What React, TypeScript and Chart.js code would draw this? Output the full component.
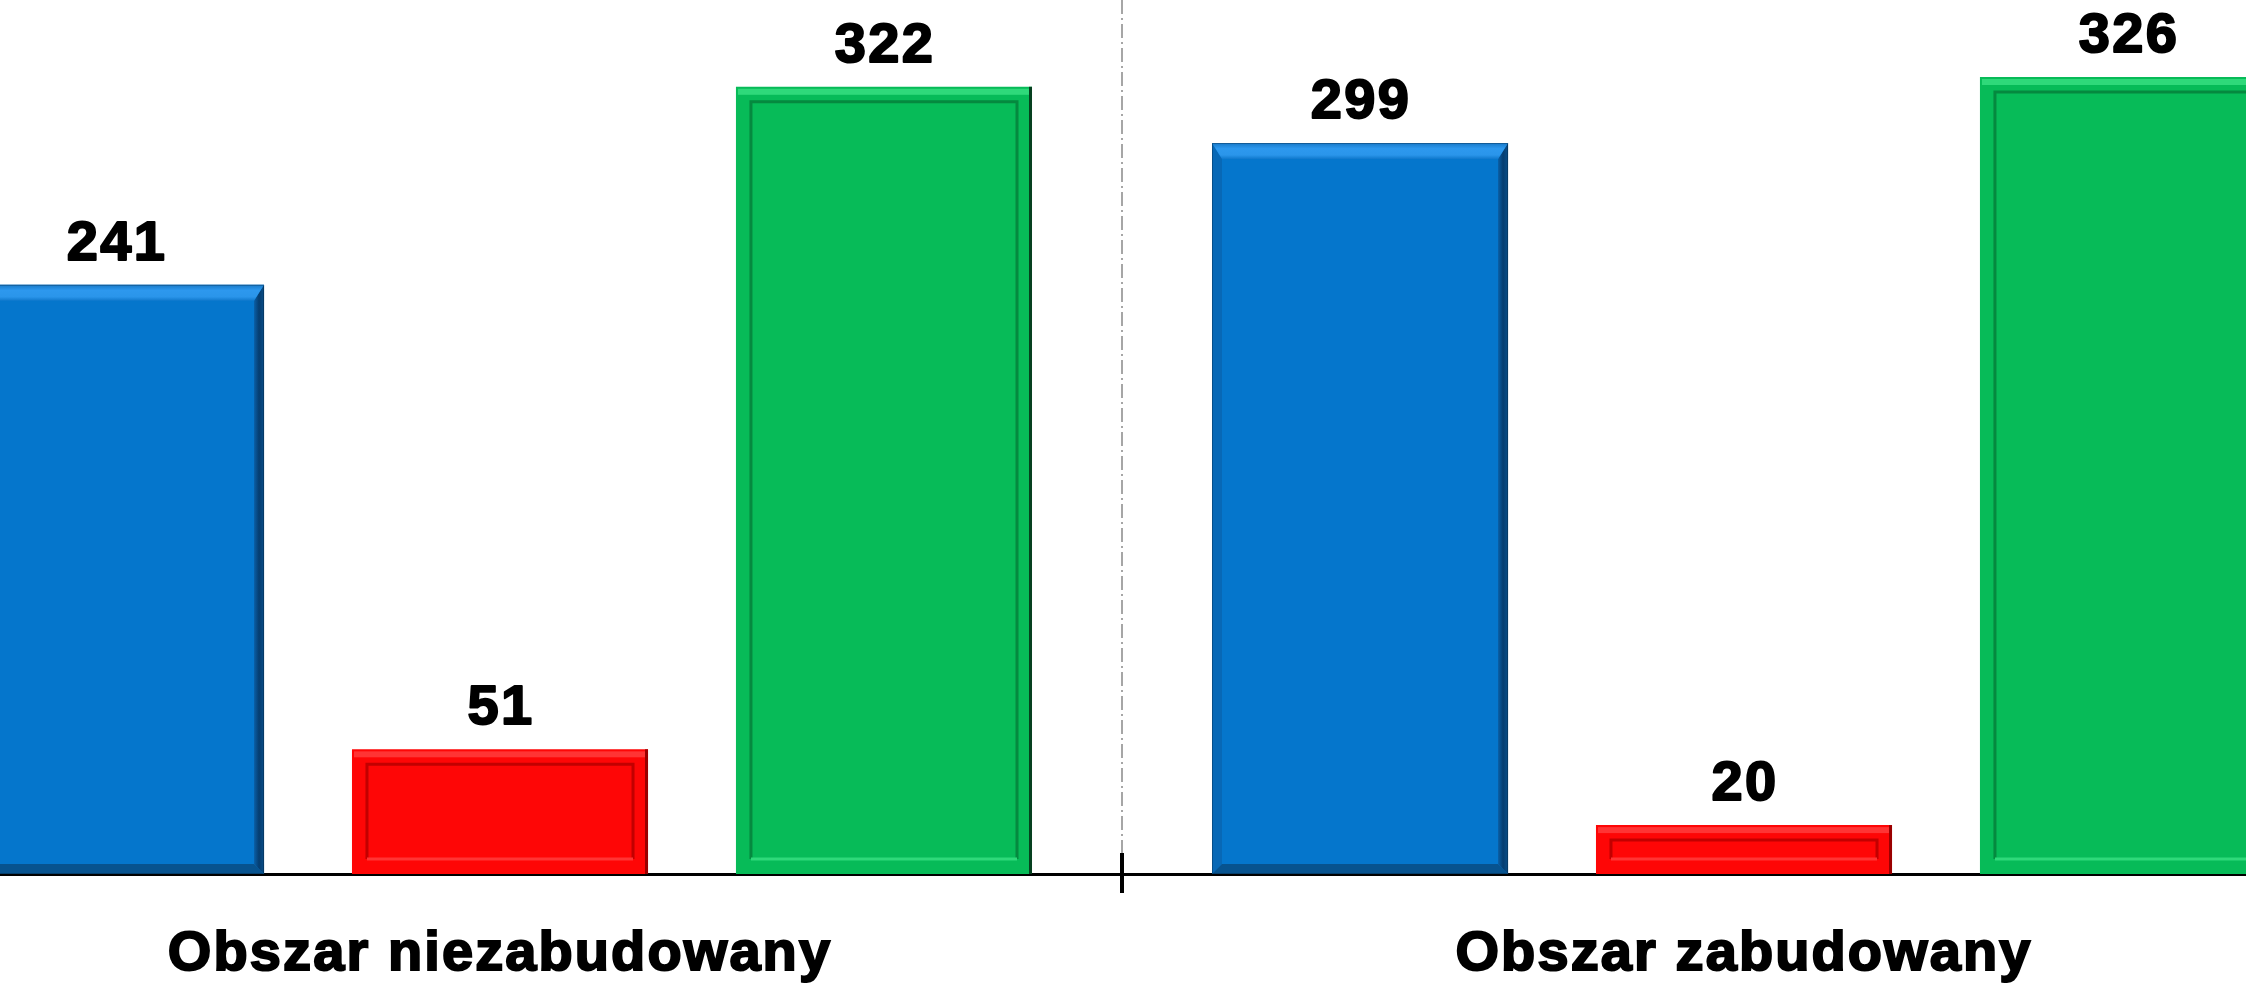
import React, { useEffect, useRef } from 'react';
import { Chart, registerables } from 'chart.js';

Chart.register(...registerables);

const categories = ['Obszar niezabudowany', 'Obszar zabudowany'];
const seriesNames = ['Seria 1', 'Seria 2', 'Seria 3'];
const blueValues = [241, 299];
const redValues = [51, 20];
const greenValues = [322, 326];
const seriesColors = ['#0576CC', '#FE0606', '#07BB58'];
const seriesStyles = ['bevel', 'frame', 'frame'];

const FONT = '"Liberation Sans", Arial, Helvetica, sans-serif';

const bevelPlugin = {
  id: 'bevelPlugin',
  afterDatasetsDraw(chart: any) {
    const ctx = chart.ctx as CanvasRenderingContext2D;
    chart.data.datasets.forEach((ds: any, di: number) => {
      const meta = chart.getDatasetMeta(di);
      const style = seriesStyles[di];
      meta.data.forEach((bar: any) => {
        const { x, y, base, width } = bar.getProps(['x', 'y', 'base', 'width'], true);
        const l = x - width / 2;
        const r = x + width / 2;
        const t = y;
        const b = base;
        ctx.save();
        if (style === 'bevel') {
          const d = 10;
          const poly = (pts: number[][], fill: any) => {
            ctx.beginPath();
            ctx.moveTo(pts[0][0], pts[0][1]);
            for (let k = 1; k < pts.length; k++) ctx.lineTo(pts[k][0], pts[k][1]);
            ctx.closePath();
            ctx.fillStyle = fill;
            ctx.fill();
          };
          poly([[l, t], [l + d, t + d + 6], [l + d, b - d], [l, b]], '#0868b6');
          poly([[l, b], [l + d, b - d], [r - d, b - d], [r, b]], '#07538f');
          const gr = ctx.createLinearGradient(r - d, 0, r, 0);
          gr.addColorStop(0, '#0a5fa6');
          gr.addColorStop(0.5, '#053d70');
          gr.addColorStop(1, '#0a4f8a');
          poly([[r, t], [r, b], [r - d, b - d], [r - d, t + d + 6]], gr);
          const gt = ctx.createLinearGradient(0, t, 0, t + d + 6);
          gt.addColorStop(0, '#1879c8');
          gt.addColorStop(0.35, '#2d98ee');
          gt.addColorStop(0.75, '#2a95ea');
          gt.addColorStop(1, '#0f78cc');
          poly([[l, t], [r, t], [r - d, t + d + 6], [l + d, t + d + 6]], gt);
          ctx.strokeStyle = 'rgba(0,0,0,0.25)';
          ctx.lineWidth = 1;
          ctx.strokeRect(l + 0.5, t + 0.5, width - 1, b - t - 1);
        } else {
          const isGreen = di === 2;
          const light = isGreen ? '#2fd97a' : '#ff3434';
          const dark = isGreen ? '#05893f' : '#c20000';
          const edge = isGreen ? '#06401f' : '#9a0000';
          const s = 15;
          ctx.fillStyle = light;
          ctx.fillRect(l + 2, t + 2, width - 4, 6);
          ctx.fillStyle = edge;
          ctx.fillRect(r - 3, t, 3, b - t);
          ctx.lineWidth = 3;
          ctx.strokeStyle = dark;
          ctx.beginPath();
          ctx.moveTo(l + s, b - s);
          ctx.lineTo(l + s, t + s);
          ctx.lineTo(r - s, t + s);
          ctx.lineTo(r - s, b - s);
          ctx.stroke();
          ctx.strokeStyle = light;
          ctx.beginPath();
          ctx.moveTo(l + s, b - s);
          ctx.lineTo(r - s, b - s);
          ctx.stroke();
        }
        ctx.restore();
      });
    });
  },
};

const valueLabelPlugin = {
  id: 'valueLabelPlugin',
  afterDatasetsDraw(chart: any) {
    const ctx = chart.ctx as any;
    ctx.save();
    ctx.font = `bold 56px ${FONT}`;
    ctx.letterSpacing = '2.3px';
    ctx.fillStyle = '#000';
    ctx.strokeStyle = '#000';
    ctx.lineWidth = 2;
    ctx.lineJoin = 'round';
    ctx.textAlign = 'center';
    ctx.textBaseline = 'alphabetic';
    chart.data.datasets.forEach((ds: any, di: number) => {
      chart.getDatasetMeta(di).data.forEach((bar: any, i: number) => {
        const tx = bar.x + 1;
        const ty = bar.y - 25;
        ctx.strokeText(String(ds.data[i]), tx, ty);
        ctx.fillText(String(ds.data[i]), tx, ty);
      });
    });
    ctx.restore();
  },
};

const letterSpacingPlugin = {
  id: 'letterSpacingPlugin',
  beforeDraw(chart: any) {
    (chart.ctx as any).letterSpacing = '2.1px';
  },
  afterDraw(chart: any) {
    (chart.ctx as any).letterSpacing = '0px';
  },
};

const crossTickPlugin = {
  id: 'crossTickPlugin',
  afterDraw(chart: any) {
    const xs = chart.scales.x;
    const ctx = chart.ctx as CanvasRenderingContext2D;
    const bottom = chart.chartArea.bottom;
    ctx.save();
    ctx.strokeStyle = '#000';
    ctx.lineWidth = 4;
    for (let i = 0; i < categories.length - 1; i++) {
      const mid = (xs.getPixelForTick(i) + xs.getPixelForTick(i + 1)) / 2;
      ctx.beginPath();
      ctx.moveTo(mid, bottom - 21);
      ctx.lineTo(mid, bottom + 19);
      ctx.stroke();
    }
    ctx.restore();
  },
};

export default function App() {
  const canvasRef = useRef<HTMLCanvasElement | null>(null);

  useEffect(() => {
    if (!canvasRef.current) return;
    const chart = new Chart(canvasRef.current, {
      type: 'bar',
      data: {
        labels: categories,
        datasets: [
          { label: seriesNames[0], data: blueValues, backgroundColor: seriesColors[0], borderWidth: 0 },
          { label: seriesNames[1], data: redValues, backgroundColor: seriesColors[1], borderWidth: 0 },
          { label: seriesNames[2], data: greenValues, backgroundColor: seriesColors[2], borderWidth: 0 },
        ],
      },
      options: {
        animation: false,
        responsive: false,
        devicePixelRatio: 1,
        layout: { padding: 0 },
        datasets: {
          bar: { categoryPercentage: 0.926, barPercentage: 0.771 },
        },
        plugins: {
          legend: { display: false },
          tooltip: { enabled: false },
          title: { display: false },
        },
        scales: {
          x: {
            offset: true,
            grid: {
              display: true,
              offset: true,
              drawTicks: false,
              drawOnChartArea: true,
              color: '#a6a6a6',
              lineWidth: 2,
            },
            border: { display: true, color: '#000', width: 3, dash: [14, 4, 2, 4] },
            ticks: {
              color: '#000',
              padding: 47,
              autoSkip: false,
              maxRotation: 0,
              textStrokeColor: '#000',
              textStrokeWidth: 2,
              font: { family: FONT, size: 56, weight: 'bold', lineHeight: 1.2 },
            },
            afterFit: (s: any) => {
              s.height = 109;
            },
          },
          y: {
            display: false,
            min: 0,
            max: 357.5,
          },
        },
      },
      plugins: [letterSpacingPlugin, bevelPlugin, valueLabelPlugin, crossTickPlugin],
    } as any);
    return () => chart.destroy();
  }, []);

  return (
    <div
      style={{
        position: 'fixed',
        left: 0,
        top: 0,
        width: 2246,
        height: 983,
        overflow: 'hidden',
        background: '#fff',
      }}
    >
      <canvas
        ref={canvasRef}
        width={2488}
        height={983}
        style={{ position: 'absolute', left: -122, top: 0, width: 2488, height: 983 }}
      />
    </div>
  );
}
